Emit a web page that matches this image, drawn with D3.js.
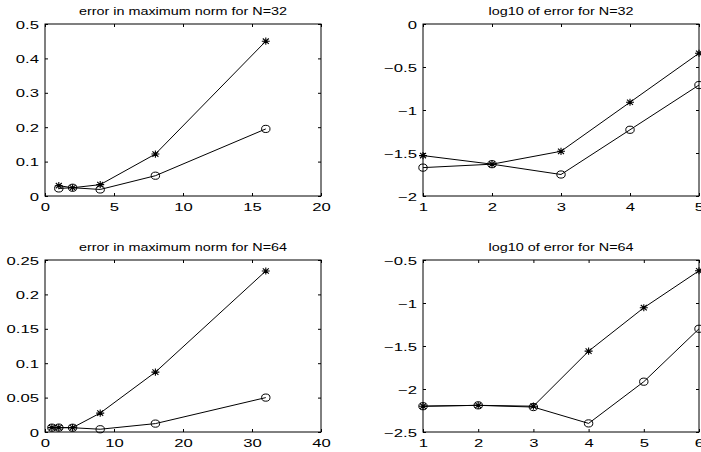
<!DOCTYPE html>
<html>
<head>
<meta charset="utf-8">
<script src="https://cdn.jsdelivr.net/npm/d3@7"></script>
<style>
  html, body { margin: 0; padding: 0; background: #fff; }
  svg { display: block; }
  text { font-family: "Liberation Sans", Arial, Helvetica, sans-serif; fill: #000; }
</style>
</head>
<body>
<svg id="chart" width="701" height="452"></svg>
<script>
// ---- data ----
const titles = [
  "error in maximum norm for N=32",
  "log10 of error for N=32",
  "error in maximum norm for N=64",
  "log10 of error for N=64"
];

// N = 32, linear
const x32 = [1, 2, 4, 8, 16];
const star32 = [0.030, 0.024, 0.033, 0.122, 0.450];
const circ32 = [0.022, 0.024, 0.019, 0.059, 0.195];

// N = 32, log10
const logX32 = [1, 2, 3, 4, 5];
const logStar32 = [-1.53, -1.63, -1.48, -0.91, -0.34];
const logCirc32 = [-1.67, -1.63, -1.75, -1.23, -0.71];

// N = 64, linear
const x64 = [1, 2, 4, 8, 16, 32];
const star64 = [0.0063, 0.0064, 0.0063, 0.0275, 0.087, 0.234];
const circ64 = [0.0063, 0.0064, 0.0062, 0.0040, 0.0122, 0.050];

// N = 64, log10
const logX64 = [1, 2, 3, 4, 5, 6];
const logStar64 = [-2.20, -2.19, -2.20, -1.56, -1.055, -0.625];
const logCirc64 = [-2.20, -2.19, -2.21, -2.40, -1.915, -1.30];

// tick values
const xTicksA = [0, 5, 10, 15, 20];
const yTicksA = [0, 0.1, 0.2, 0.3, 0.4, 0.5];
const xTicksB = [1, 2, 3, 4, 5];
const yTicksB = [-2, -1.5, -1, -0.5, 0];
const xTicksC = [0, 10, 20, 30, 40];
const yTicksC = [0, 0.05, 0.1, 0.15, 0.2, 0.25];
const xTicksD = [1, 2, 3, 4, 5, 6];
const yTicksD = [-2.5, -2, -1.5, -1, -0.5];

// ---- layout ----
const svg = d3.select("#chart");
const fmt = d => d3.format("~g")(d);

const LBL = 11.5, LBL_SX = 1.45;
const TTL = 11, TTL_SX = 1.31;

const panels = [
  { title: titles[0], xs: x32, s1: star32, s2: circ32, xd: [0, 20], yd: [0, 0.5], xt: xTicksA, yt: yTicksA,
    left: 45, right: 321, top: 24, bottom: 196 },
  { title: titles[1], xs: logX32, s1: logStar32, s2: logCirc32, xd: [1, 5], yd: [-2, 0], xt: xTicksB, yt: yTicksB,
    left: 423, right: 699, top: 24, bottom: 196 },
  { title: titles[2], xs: x64, s1: star64, s2: circ64, xd: [0, 40], yd: [0, 0.25], xt: xTicksC, yt: yTicksC,
    left: 45, right: 321, top: 260, bottom: 432 },
  { title: titles[3], xs: logX64, s1: logStar64, s2: logCirc64, xd: [1, 6], yd: [-2.5, -0.5], xt: xTicksD, yt: yTicksD,
    left: 423, right: 699, top: 260, bottom: 432 }
];

function starPath(hw, hh) {
  const d = hw * 0.75, e = hh * 0.75;
  return `M${-hw},0L${hw},0M0,${-hh}L0,${hh}M${-d},${-e}L${d},${e}M${-d},${e}L${d},${-e}`;
}

panels.forEach(p => {
  const g = svg.append("g");
  const x = d3.scaleLinear().domain(p.xd).range([p.left, p.right]);
  const y = d3.scaleLinear().domain(p.yd).range([p.bottom, p.top]);

  // bottom axis (inward ticks)
  const gb = g.append("g").attr("transform", `translate(0,${p.bottom})`)
    .call(d3.axisBottom(x).tickValues(p.xt).tickSize(-3).tickFormat(fmt));
  gb.selectAll("text").attr("y", null).attr("dy", null)
    .attr("transform", `translate(0,15) scale(${LBL_SX},1)`)
    .style("font-size", LBL + "px").style("font-family", null);

  // top axis
  g.append("g").attr("transform", `translate(0,${p.top})`)
    .call(d3.axisTop(x).tickValues(p.xt).tickSize(-3).tickFormat(""));

  // left axis
  const gl = g.append("g").attr("transform", `translate(${p.left},0)`)
    .call(d3.axisLeft(y).tickValues(p.yt).tickSize(-3).tickFormat(fmt));
  gl.selectAll("text").attr("x", null).attr("dy", null)
    .attr("transform", `translate(-6,4) scale(${LBL_SX},1)`)
    .style("font-size", LBL + "px").style("font-family", null);

  // right axis
  g.append("g").attr("transform", `translate(${p.right},0)`)
    .call(d3.axisRight(y).tickValues(p.yt).tickSize(-3).tickFormat(""));

  g.selectAll(".domain").remove();
  g.selectAll(".tick line").attr("stroke", "#000");

  // box
  g.append("rect").attr("x", p.left).attr("y", p.top)
    .attr("width", p.right - p.left).attr("height", p.bottom - p.top)
    .attr("fill", "none").attr("stroke", "#000").attr("stroke-width", 1);

  // title
  g.append("text")
    .attr("transform", `translate(${(p.left + p.right) / 2},${p.top - 9}) scale(${TTL_SX},1)`)
    .attr("text-anchor", "middle").style("font-size", TTL + "px")
    .text(p.title);

  const line = d3.line().x(d => x(d[0])).y(d => y(d[1]));
  const d1 = p.xs.map((v, i) => [v, p.s1[i]]);
  const d2 = p.xs.map((v, i) => [v, p.s2[i]]);

  g.append("path").datum(d1).attr("d", line).attr("fill", "none").attr("stroke", "#000").attr("stroke-width", 1);
  g.append("path").datum(d2).attr("d", line).attr("fill", "none").attr("stroke", "#000").attr("stroke-width", 1);

  g.selectAll(".circ").data(d2).enter().append("ellipse")
    .attr("cx", d => x(d[0])).attr("cy", d => y(d[1]))
    .attr("rx", 4.2).attr("ry", 3.6)
    .attr("fill", "none").attr("stroke", "#000").attr("stroke-width", 1);

  g.selectAll(".star").data(d1).enter().append("path")
    .attr("transform", d => `translate(${x(d[0])},${y(d[1])})`)
    .attr("d", starPath(4, 3.6))
    .attr("fill", "none").attr("stroke", "#000").attr("stroke-width", 1.1);
});
</script>
</body>
</html>
